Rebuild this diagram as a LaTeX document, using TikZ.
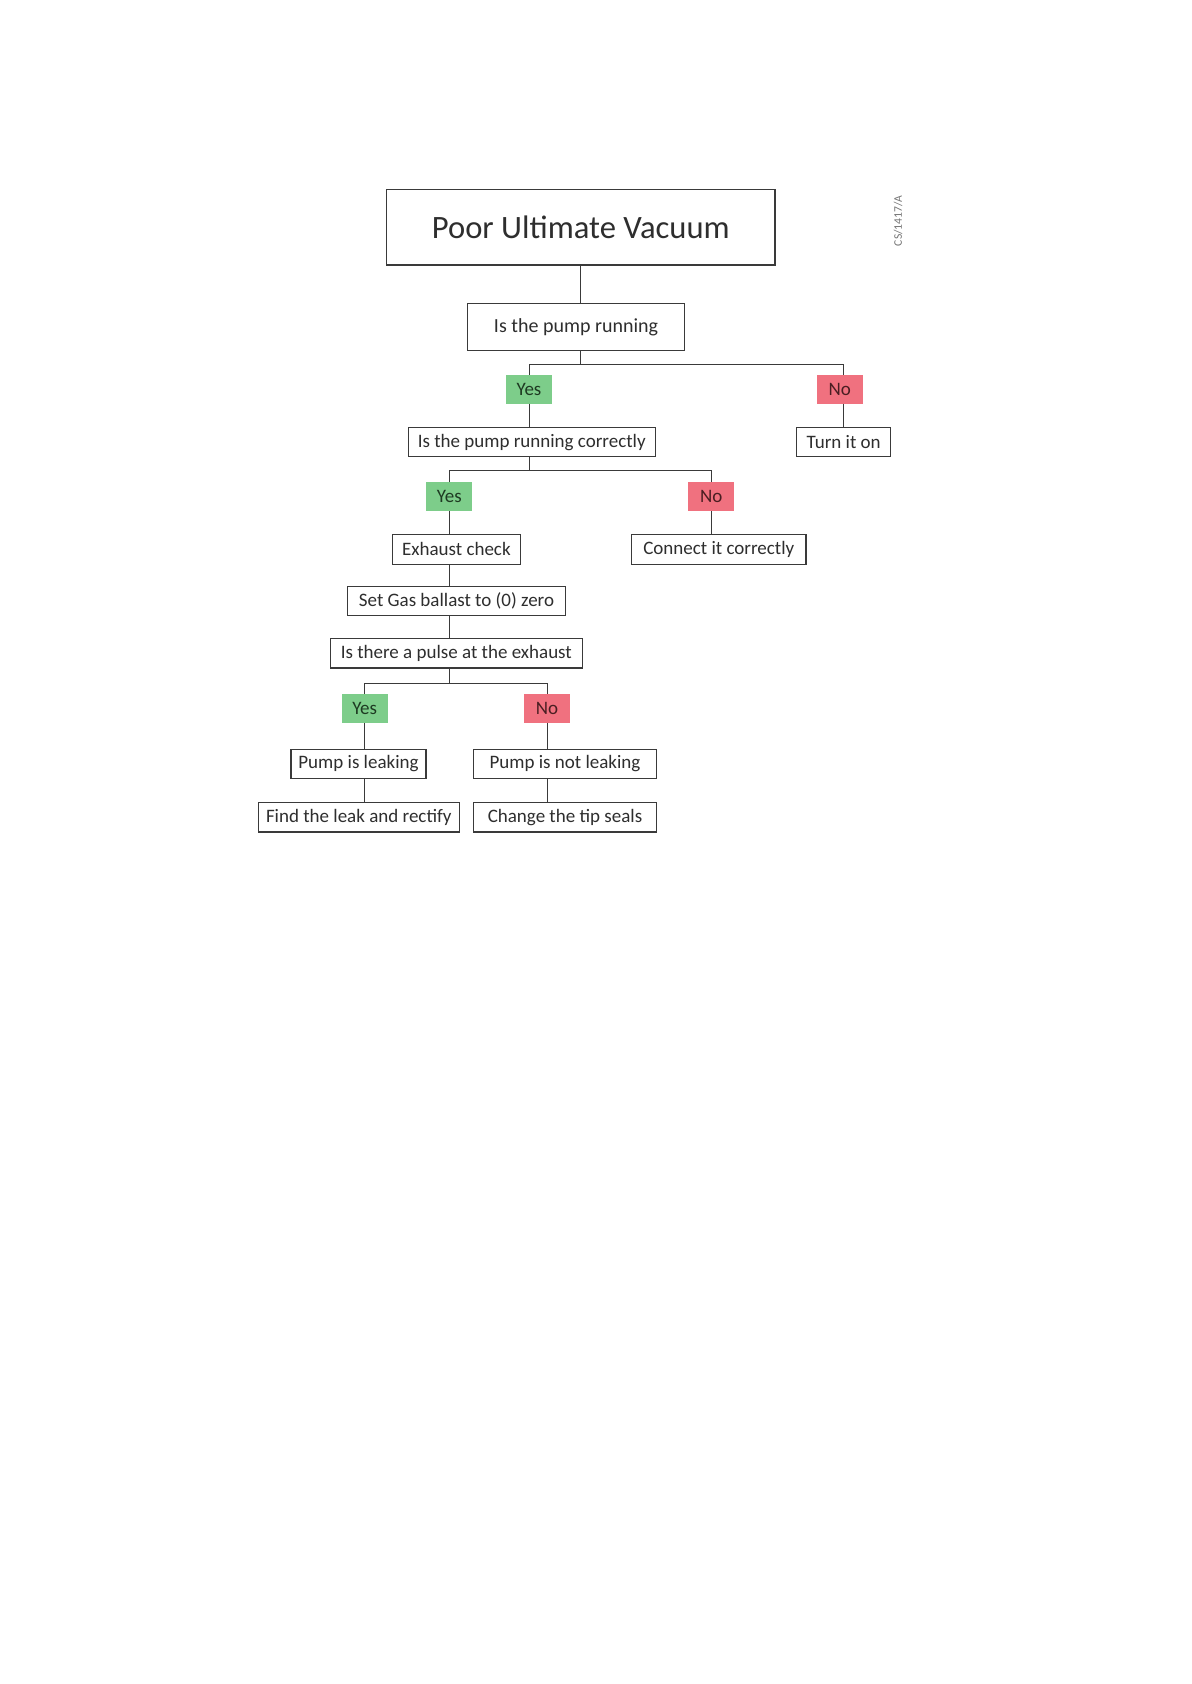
\documentclass[tikz,border=0pt]{standalone}
\usepackage{fontspec}
\setmainfont{Carlito}
\definecolor{yesfill}{HTML}{7DCD8A}
\definecolor{nofill}{HTML}{F0717F}
\definecolor{yestext}{HTML}{1E3A22}
\definecolor{notext}{HTML}{4A1E22}
\definecolor{linecol}{HTML}{3A3A3A}
\tikzset{
  box/.style={draw=linecol, line width=0.55pt, fill=white, inner sep=0pt, outer sep=0pt,
    font=\fontsize{9.5}{11}\selectfont, text=black!82},
  yesbox/.style={fill=yesfill, inner sep=0pt, outer sep=0pt, minimum width=23pt, minimum height=14.35pt,
    font=\fontsize{9.5}{11}\selectfont, text=yestext},
  nobox/.style={fill=nofill, inner sep=0pt, outer sep=0pt, minimum width=23pt, minimum height=14.35pt,
    font=\fontsize{9.5}{11}\selectfont, text=notext},
  conn/.style={draw=linecol, line width=0.5pt}
}
\begin{document}
\begin{tikzpicture}[x=0.5pt,y=-0.5pt]
\useasboundingbox (0,0) rectangle (1191,1684);
\fill[white] (0,0) rectangle (1191,1684);

\node[box, minimum width=194.2pt, minimum height=37.8pt, font=\fontsize{16.3}{19}\selectfont] (t) at (580.8,227.2) {Poor Ultimate Vacuum};
\node[box, minimum width=108.3pt, minimum height=23.7pt, font=\fontsize{10}{12}\selectfont] (q1) at (576,327) {Is the pump running};
\node[yesbox] (y1) at (529,389.3) {Yes};
\node[nobox] (n1) at (839.7,389.3) {No};
\node[box, minimum width=123.4pt, minimum height=14.5pt] (q2) at (531.7,442.2) {Is the pump running correctly};
\node[box, minimum width=47pt, minimum height=14.7pt] (t1) at (843.7,442) {Turn it on};
\node[yesbox] (y2) at (449.3,496.7) {Yes};
\node[nobox] (n2) at (711.3,496.7) {No};
\node[box, minimum width=63.9pt, minimum height=14.85pt] (e) at (456.4,549.2) {Exhaust check};
\node[box, minimum width=87.2pt, minimum height=14.85pt] (c) at (718.8,549.2) {Connect it correctly};
\node[box, minimum width=109.2pt, minimum height=14.65pt] (g) at (456.5,600.7) {Set Gas ballast to (0) zero};
\node[box, minimum width=126pt, minimum height=14.65pt] (p) at (456.3,653.3) {Is there a pulse at the exhaust};
\node[yesbox] (y3) at (364.7,708.5) {Yes};
\node[nobox] (n3) at (547,708.5) {No};
\node[box, minimum width=67.5pt, minimum height=14.7pt] (pl) at (358.5,764) {Pump is leaking};
\node[box, minimum width=91.7pt, minimum height=14.7pt] (pn) at (565,764) {Pump is not leaking};
\node[box, minimum width=100.5pt, minimum height=14.65pt] (f) at (358.8,817.3) {Find the leak and rectify};
\node[box, minimum width=91.7pt, minimum height=14.65pt] (ch) at (565,817.3) {Change the tip seals};

\node[rotate=90, inner sep=0pt, text=black!55, font=\fontsize{5.8}{7}\selectfont] (wm) at (898,221) {CS/1417/A};

% connectors
\draw[conn] (t.south) -- (t.south |- q1.north);
\draw[conn] (t.south |- q1.south) -- ++(0,13.6) -| (y1.north);
\draw[conn] (t.south |- q1.south) -- ++(0,13.6) -| (t1.north |- n1.north);
\draw[conn] (t1.north |- n1.south) -- (t1.north);
\draw[conn] (y1.south) -- (y1.south |- q2.north);
\draw[conn] (y1.south |- q2.south) -- ++(0,14) -| (y2.north);
\draw[conn] (y1.south |- q2.south) -- ++(0,14) -| (n2.north);
\draw[conn] (y2.south) -- (y2.south |- e.north);
\draw[conn] (n2.south) -- (n2.south |- c.north);
\draw[conn] (y2.south |- e.south) -- (y2.south |- g.north);
\draw[conn] (y2.south |- g.south) -- (y2.south |- p.north);
\draw[conn] (y2.south |- p.south) -- ++(0,15.3) -| (y3.north);
\draw[conn] (y2.south |- p.south) -- ++(0,15.3) -| (n3.north);
\draw[conn] (y3.south) -- (y3.south |- pl.north);
\draw[conn] (n3.south) -- (n3.south |- pn.north);
\draw[conn] (y3.south |- pl.south) -- (y3.south |- f.north);
\draw[conn] (n3.south |- pn.south) -- (n3.south |- ch.north);
\end{tikzpicture}
\end{document}
